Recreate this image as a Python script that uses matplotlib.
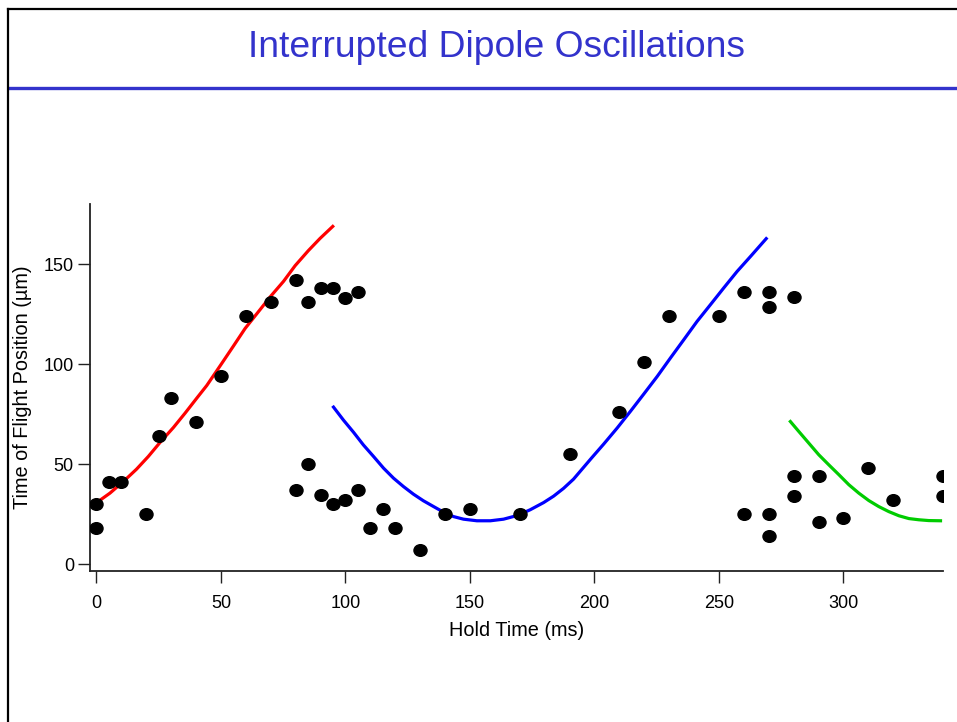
import matplotlib
matplotlib.use("Agg")
import matplotlib.pyplot as plt
from matplotlib.lines import Line2D
from matplotlib.path import Path
from matplotlib.transforms import Affine2D

plt.rcParams['font.family'] = ['Liberation Sans', 'DejaVu Sans']

# ---- data ----
hold_time = [0, 0, 5, 10, 20, 25, 30, 40, 50, 60, 70, 80, 85, 90, 95, 100, 105,
             80, 85, 90, 95, 100, 105, 110, 115, 120, 130, 140, 150, 170, 190,
             210, 220, 230, 250, 260, 270, 270, 280,
             260, 270, 270, 280, 280, 290, 290, 300, 310, 320, 340, 340]
position = [18, 30, 41, 41, 25, 64, 83, 71, 94, 124, 131, 142, 131, 138, 138, 133, 136,
            37, 50, 34.5, 30, 32, 37, 18, 27.5, 18, 7, 25, 27.5, 25, 55,
            76, 101, 124, 124, 136, 136, 128.5, 133.5,
            25, 25, 14, 44, 34, 44, 21, 23, 48, 32, 44, 34]

red_x = [0.1, 5.4, 10.8, 16.1, 20.8, 25.5, 30.9, 35.6, 40.3, 44.3, 50.3, 55.0,
         59.7, 65.7, 69.7, 75.1, 79.8, 85.1, 89.8, 94.9]
red_y = [30.8, 35.5, 41.3, 47.5, 53.8, 60.8, 68.3, 75.5, 83.0, 89.3, 100.3, 109.0,
         117.8, 127.2, 133.5, 141.3, 149.2, 156.7, 162.8, 168.8]

blue_x = [95.2, 99.2, 103.2, 107.2, 111.3, 115.3, 119.3, 123.3, 127.3, 131.3, 135.4,
          139.4, 143.4, 147.4, 152.8, 158.2, 163.5, 168.9, 174.2, 179.6, 183.6,
          187.6, 191.6, 194.0, 198.8, 203.7, 209.1, 214.4, 219.8, 225.2, 230.5, 235.9,
          241.2, 246.6, 251.9, 257.3, 262.7, 269.0]
blue_y = [78.5, 72.0, 66.0, 59.6, 53.8, 48.0, 43.0, 38.8, 35.0, 31.7, 28.8,
          26.0, 23.8, 22.5, 21.7, 21.7, 22.5, 24.3, 27.2, 30.8, 34.0,
          37.9, 42.5, 46.0, 53.0, 60.0, 68.0, 76.3, 85.0, 93.8, 103.0, 112.2,
          121.3, 129.7, 138.0, 146.3, 153.8, 162.7]

green_x = [278.7, 282.1, 286.1, 290.1, 294.1, 298.2, 302.2, 306.2, 310.2, 314.2,
           318.2, 322.3, 326.3, 330.3, 334.3, 339.0]
green_y = [71.3, 66.3, 60.5, 54.7, 49.7, 44.7, 39.7, 35.5, 31.8, 28.8,
           26.3, 24.2, 22.8, 22.2, 21.8, 21.7]

x_ticks = [0, 50, 100, 150, 200, 250, 300]
y_ticks = [0, 50, 100, 150]

title = "Interrupted Dipole Oscillations"
x_label = "Hold Time (ms)"
y_label = "Time of Flight Position (\u00b5m)"

# ---- figure ----
W, H = 957, 722
fig = plt.figure(figsize=(W / 100, H / 100), dpi=100)

def fx(px):
    return px / W

def fy(py):
    return 1 - py / H

ax = fig.add_axes([fx(90), fy(571), fx(943) - fx(90), fy(204) - fy(571)])

ellipse = Path.unit_circle().transformed(Affine2D().scale(1.12, 1.0))
ax.plot(hold_time, position, linestyle='none', marker=ellipse, markersize=9.4,
        color='black', zorder=3)
ax.plot(red_x, red_y, color='#ff0000', lw=2.3, zorder=2)
ax.plot(blue_x, blue_y, color='#0000ff', lw=2.3, zorder=2)
ax.plot(green_x, green_y, color='#00cc00', lw=2.3, zorder=2)

ax.set_xlim(-2.6, 340)
ax.set_ylim(-3.4, 180)
ax.set_xticks(x_ticks)
ax.set_yticks(y_ticks)
for s in ['top', 'right']:
    ax.spines[s].set_visible(False)
for s in ['left', 'bottom']:
    ax.spines[s].set_linewidth(1.3)
    ax.spines[s].set_color('#222222')
ax.tick_params(axis='both', direction='out', length=8.6, width=1.0, color='#222222',
               labelsize=13)
ax.tick_params(axis='x', pad=9)
ax.tick_params(axis='y', pad=3)

ax.set_xlabel(x_label, fontsize=14.3)
ax.set_ylabel(y_label, fontsize=14.3)
ax.xaxis.set_label_coords(0.5, -0.135)
ax.yaxis.set_label_coords(-0.068, 0.5)

# title and decorations
fig.text(fx(496), fy(57), title, color='#3333cc', fontsize=26.8,
         ha='center', va='baseline')
fig.add_artist(Line2D([fx(9), 1.0], [fy(88), fy(88)], color='#3333cc', lw=2.4,
                      transform=fig.transFigure))
fig.add_artist(Line2D([fx(8), 1.0], [fy(9), fy(9)], color='black', lw=1.6,
                      transform=fig.transFigure))
fig.add_artist(Line2D([fx(8), fx(8)], [fy(9), 0.0], color='black', lw=1.6,
                      transform=fig.transFigure))

fig.savefig("out.png", dpi=100)
